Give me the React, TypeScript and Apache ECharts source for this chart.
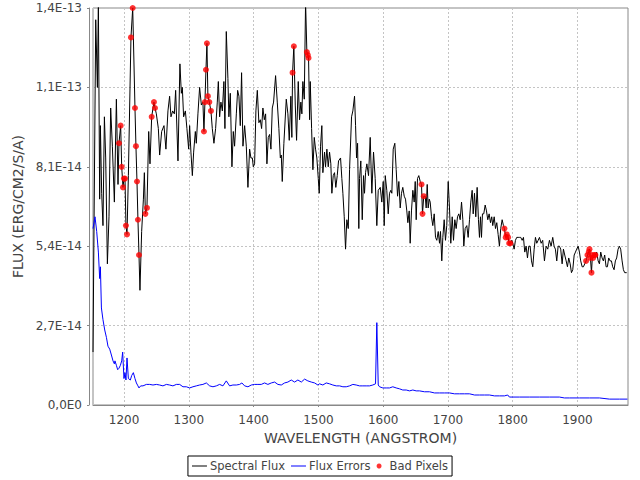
import React, { useEffect, useRef } from "react";
import * as echarts from "echarts";

// Flux values are in units of 1e-14 erg/cm2/s/A
const FLUX_UNIT_EXP = -14;

const xTicks = [1200, 1300, 1400, 1500, 1600, 1700, 1800, 1900];
const yTickStep = 2.7;

// [wavelength (Å), flux (1e-14)]
const spectralFlux: [number, number][] = [
  [1152, 1.8], [1156.2, 13.1], [1158.8, 10.8], [1160.3, 13.7], [1162.3, 7.0], [1163.4, 9.5], [1165.4, 7.2], [1167.4, 6.1],
  [1169.6, 9.8], [1171.6, 8.4], [1174.2, 4.8], [1176.7, 6.4], [1179.3, 10.1], [1181.9, 8.8], [1185.0, 6.9], [1188.1, 10.4],
  [1190.6, 7.5], [1192.1, 8.9], [1194.7, 9.5], [1196.3, 8.1], [1198.3, 7.4], [1199.8, 7.7], [1201.4, 7.7], [1202.9, 6.1],
  [1204.5, 5.8], [1206.6, 7.8], [1210.6, 12.5], [1213.3, 13.5], [1216.8, 10.1], [1218.3, 8.8], [1219.9, 7.6], [1221.4, 6.3],
  [1223.0, 5.1], [1224.5, 3.9], [1227.1, 5.9], [1229.8, 7.0], [1231.3, 7.9], [1232.9, 6.5], [1235.3, 6.7], [1238.0, 9.3],
  [1240.0, 8.2], [1242.6, 9.8], [1246.1, 10.3], [1247.7, 10.1], [1249.8, 9.9], [1252.9, 9.4], [1254.9, 8.5], [1258.0, 9.3],
  [1261.6, 9.5], [1264.6, 8.7], [1267.7, 10.0], [1270.3, 10.5], [1272.4, 9.8], [1275.0, 10.0], [1277.6, 9.9], [1279.6, 10.7],
  [1283.2, 8.3], [1286.2, 11.6], [1288.4, 10.6], [1289.9, 10.8], [1291.9, 9.8], [1294.6, 10.0], [1297.0, 9.4], [1299.7, 8.7],
  [1301.2, 9.5], [1303.2, 8.6], [1305.4, 7.8], [1307.4, 8.6], [1310.0, 9.3], [1311.5, 8.9], [1314.0, 9.9], [1316.6, 10.8],
  [1319.3, 10.2], [1321.7, 10.3], [1323.3, 9.3], [1324.8, 10.3], [1326.4, 11.4], [1327.9, 12.3], [1329.4, 10.5], [1331.6, 10.3],
  [1334.1, 10.0], [1336.2, 9.4], [1338.7, 8.9], [1341.3, 9.4], [1343.9, 10.3], [1345.5, 11.0], [1347.5, 9.8], [1349.5, 10.3],
  [1351.7, 10.0], [1354.1, 11.0], [1355.7, 9.4], [1357.8, 12.7], [1360.3, 11.1], [1361.8, 9.8], [1364.0, 10.6], [1366.5, 8.1],
  [1368.6, 9.3], [1370.6, 8.8], [1373.3, 9.9], [1375.3, 10.7], [1377.3, 10.5], [1379.4, 9.5], [1381.4, 11.3], [1383.5, 8.8],
  [1386.1, 9.5], [1388.7, 8.8], [1391.2, 7.4], [1393.8, 8.7], [1395.8, 8.4], [1398.0, 8.4], [1399.5, 8.1], [1401.5, 8.2],
  [1403.5, 10.0], [1405.7, 10.7], [1408.1, 9.6], [1410.3, 9.7], [1412.3, 9.4], [1414.3, 10.1], [1416.5, 9.7], [1418.5, 9.9],
  [1420.5, 8.2], [1422.6, 9.1], [1424.7, 9.2], [1426.7, 8.7], [1428.8, 10.1], [1430.8, 10.3], [1433.9, 11.2], [1436.5, 10.3],
  [1439.0, 9.4], [1441.2, 8.4], [1442.7, 8.5], [1444.2, 7.6], [1446.7, 8.9], [1450.4, 10.4], [1452.9, 9.9], [1455.0, 9.0],
  [1457.5, 10.5], [1459.0, 9.1], [1460.1, 11.3], [1462.1, 12.2], [1464.3, 10.2], [1466.3, 9.0], [1468.9, 11.0], [1470.9, 9.7],
  [1472.9, 10.3], [1474.5, 9.9], [1476.0, 11.0], [1478.2, 10.4], [1480.2, 13.7], [1482.2, 12.0], [1483.7, 11.9], [1484.8, 11.8],
  [1486.4, 9.7], [1487.4, 11.0], [1489.5, 9.4], [1491.5, 8.0], [1493.6, 9.1], [1495.6, 8.7], [1497.6, 8.4], [1499.8, 7.7],
  [1501.3, 7.2], [1503.3, 8.8], [1505.3, 9.5], [1506.9, 7.9], [1509.5, 8.6], [1511.0, 8.1], [1513.1, 8.7], [1515.2, 8.1],
  [1517.2, 8.6], [1519.2, 8.2], [1520.8, 7.2], [1522.9, 7.8], [1524.9, 7.9], [1526.9, 7.4], [1529.1, 7.8], [1531.1, 8.3],
  [1534.2, 8.4], [1536.2, 7.7], [1537.8, 7.2], [1539.9, 6.4], [1541.9, 5.3], [1543.9, 6.3], [1546.1, 6.0], [1548.1, 8.0],
  [1551.2, 9.8], [1553.2, 10.0], [1555.8, 10.5], [1557.4, 9.5], [1558.9, 8.4], [1560.5, 8.9], [1562.4, 6.0], [1563.5, 7.7],
  [1565.5, 8.3], [1567.7, 6.3], [1569.7, 7.8], [1571.2, 7.2], [1572.8, 7.9], [1574.8, 8.2], [1577.4, 7.8], [1580.0, 9.1],
  [1582.5, 7.2], [1585.1, 8.6], [1587.7, 7.7], [1590.2, 6.1], [1592.4, 7.3], [1595.5, 7.4], [1597.9, 6.9], [1600.1, 7.6],
  [1601.6, 6.1], [1603.2, 7.8], [1605.6, 7.3], [1607.8, 6.5], [1609.8, 7.2], [1611.8, 7.3], [1613.4, 7.2], [1615.5, 8.7],
  [1618.0, 8.9], [1620.1, 8.0], [1622.2, 7.1], [1624.2, 7.6], [1626.3, 6.7], [1628.3, 7.2], [1630.3, 7.4], [1632.5, 7.1],
  [1634.5, 7.0], [1636.5, 6.6], [1638.1, 6.2], [1640.2, 6.6], [1641.7, 5.5], [1643.7, 6.6], [1645.8, 7.3], [1647.9, 6.9],
  [1649.5, 7.6], [1651.0, 6.3], [1653.0, 7.7], [1655.0, 7.8], [1657.2, 7.6], [1659.2, 7.5], [1660.7, 6.5], [1662.7, 7.1],
  [1664.9, 7.1], [1666.4, 6.7], [1668.0, 7.5], [1669.5, 6.7], [1671.1, 7.0], [1672.6, 6.9], [1674.6, 6.4], [1676.6, 6.1],
  [1678.8, 6.5], [1680.8, 5.7], [1682.8, 5.6], [1685.0, 5.9], [1687.0, 5.5], [1688.5, 5.9], [1690.5, 4.9], [1692.1, 5.7],
  [1694.2, 6.3], [1696.2, 5.6], [1698.2, 6.1], [1700.4, 7.6], [1702.4, 6.7], [1704.4, 5.5], [1706.6, 6.4], [1708.6, 5.6],
  [1710.6, 6.3], [1712.7, 6.0], [1714.8, 6.4], [1716.8, 6.5], [1718.9, 6.3], [1721.0, 6.9], [1723.0, 6.3], [1724.5, 5.4],
  [1726.6, 6.0], [1729.1, 6.1], [1731.2, 5.7], [1733.3, 6.3], [1735.3, 6.9], [1737.4, 7.3], [1739.0, 6.5], [1741.0, 7.2],
  [1743.0, 6.4], [1745.1, 7.4], [1747.1, 6.3], [1748.7, 5.7], [1750.2, 6.4], [1751.8, 5.7], [1753.3, 6.5], [1755.3, 6.5],
  [1757.5, 6.8], [1759.5, 6.6], [1761.5, 6.3], [1763.6, 6.5], [1765.7, 6.2], [1767.6, 6.4], [1769.2, 6.1], [1771.4, 6.4],
  [1773.4, 6.0], [1775.4, 6.2], [1777.5, 5.8], [1779.5, 5.4], [1781.5, 6.0], [1783.7, 6.3], [1785.7, 6.1], [1787.2, 6.0],
  [1789.2, 5.7], [1790.8, 5.8], [1792.9, 5.7], [1794.5, 5.5], [1796.5, 5.5], [1798.5, 5.6], [1800.1, 5.5], [1802.2, 5.3],
  [1804.2, 5.6], [1806.2, 5.7], [1808.4, 5.7], [1810.4, 5.7], [1812.4, 5.7], [1814.6, 5.6], [1816.6, 5.7], [1818.6, 5.2],
  [1820.7, 5.4], [1822.8, 5.0], [1824.8, 5.4], [1826.9, 5.4], [1829.0, 4.9], [1831.0, 4.7], [1833.1, 5.3], [1835.1, 5.7],
  [1837.1, 5.5], [1839.3, 5.6], [1841.3, 5.7], [1843.9, 5.5], [1846.3, 5.6], [1849.0, 4.9], [1851.6, 5.4], [1854.1, 5.3],
  [1856.7, 5.6], [1859.3, 5.4], [1861.8, 5.7], [1863.9, 5.4], [1865.9, 5.3], [1868.0, 4.9], [1870.1, 5.4], [1872.1, 5.4],
  [1874.1, 5.3], [1876.3, 4.8], [1878.3, 5.3], [1880.3, 5.1], [1882.5, 4.9], [1884.5, 4.7], [1886.5, 5.0], [1888.7, 4.8],
  [1890.7, 4.5], [1892.7, 4.6], [1894.9, 5.1], [1896.9, 5.2], [1898.8, 5.3], [1901.0, 5.4], [1903.0, 5.2], [1905.0, 4.9],
  [1907.2, 4.7], [1909.2, 4.7], [1911.2, 4.8], [1913.3, 4.9], [1915.4, 5.1], [1917.4, 5.2], [1918.5, 5.3], [1920.0, 5.0],
  [1921.6, 4.5], [1923.1, 5.1], [1924.2, 5.0], [1926.2, 5.1], [1927.7, 5.1], [1929.7, 5.2], [1931.9, 4.9], [1933.9, 4.8],
  [1935.9, 5.2], [1938.0, 5.0], [1940.0, 4.9], [1942.0, 5.1], [1944.2, 4.7], [1946.2, 4.7], [1948.2, 5.0], [1950.3, 4.9],
  [1952.4, 4.9], [1954.4, 4.7], [1956.5, 4.6], [1958.5, 4.9], [1960.5, 5.0], [1962.7, 5.3], [1964.7, 5.4], [1966.7, 5.3],
  [1968.9, 4.9], [1970.9, 4.6], [1972.9, 4.5], [1976.0, 4.5],
];

// [wavelength (Å), flux error (1e-14)]
const fluxErrors: [number, number][] = [
  [1152, 6.0], [1155.1, 6.4], [1157.7, 5.9], [1160.3, 5.2], [1162.3, 4.3], [1163.4, 4.7], [1165.0, 3.3], [1167.4, 2.9],
  [1170.1, 2.55], [1172.7, 2.3], [1175.1, 2.0], [1177.8, 1.9], [1180.4, 1.7], [1182.9, 1.5], [1185.0, 1.4], [1185.9, 1.5],
  [1188.1, 1.35], [1190.1, 1.2], [1192.1, 1.25], [1194.3, 1.35], [1196.3, 1.5], [1197.8, 1.8], [1199.8, 0.9], [1201.4, 1.1],
  [1202.9, 0.85], [1204.5, 1.6], [1206.6, 0.9], [1209.7, 0.85], [1211.7, 1.0], [1214.3, 1.1], [1216.8, 0.9], [1219.0, 0.75],
  [1221.4, 0.65], [1223.0, 0.58], [1225.6, 0.65], [1229.2, 0.65], [1234.4, 0.7], [1239.5, 0.7], [1244.6, 0.68], [1249.8, 0.7],
  [1254.9, 0.68], [1260.0, 0.65], [1265.3, 0.7], [1270.3, 0.68], [1275.4, 0.65], [1280.7, 0.7], [1285.8, 0.7], [1290.9, 0.62],
  [1296.1, 0.62], [1301.2, 0.58], [1306.3, 0.62], [1311.5, 0.65], [1316.6, 0.68], [1321.7, 0.7], [1327.0, 0.75], [1332.1, 0.65],
  [1337.2, 0.62], [1342.4, 0.65], [1347.5, 0.7], [1352.6, 0.65], [1357.8, 0.82], [1362.9, 0.65], [1368.0, 0.68], [1373.3, 0.68],
  [1378.4, 0.7], [1381.9, 0.75], [1386.1, 0.65], [1391.2, 0.62], [1396.4, 0.68], [1401.5, 0.7], [1406.6, 0.7], [1411.8, 0.7],
  [1416.9, 0.75], [1422.0, 0.7], [1427.3, 0.75], [1432.4, 0.78], [1437.5, 0.7], [1442.7, 0.68], [1447.8, 0.75], [1452.9, 0.78],
  [1458.1, 0.85], [1463.2, 0.78], [1468.3, 0.85], [1473.6, 0.78], [1478.7, 0.88], [1483.7, 0.82], [1489.0, 0.78], [1494.1, 0.75],
  [1499.2, 0.68], [1501.8, 0.72], [1506.9, 0.68], [1512.1, 0.75], [1517.2, 0.72], [1522.3, 0.68], [1527.6, 0.65], [1532.7, 0.65],
  [1537.8, 0.62], [1543.0, 0.62], [1548.1, 0.65], [1553.2, 0.7], [1558.4, 0.68], [1563.5, 0.65], [1568.6, 0.65], [1573.8, 0.65],
  [1578.9, 0.65], [1584.0, 0.68], [1588.2, 0.72], [1590.2, 2.8], [1592.4, 0.68], [1594.4, 0.62], [1599.5, 0.58], [1604.7, 0.58],
  [1609.8, 0.58], [1614.9, 0.62], [1620.1, 0.58], [1625.2, 0.55], [1630.3, 0.51], [1635.6, 0.51], [1640.7, 0.48], [1645.8, 0.51],
  [1651.0, 0.48], [1656.1, 0.48], [1663.8, 0.45], [1671.5, 0.45], [1679.3, 0.41], [1687.0, 0.41], [1694.7, 0.41], [1702.4, 0.41],
  [1710.1, 0.38], [1717.9, 0.38], [1725.6, 0.38], [1733.3, 0.38], [1741.0, 0.34], [1748.7, 0.34], [1756.4, 0.34], [1764.1, 0.34],
  [1771.8, 0.31], [1779.5, 0.31], [1787.2, 0.31], [1792.3, 0.34], [1794.9, 0.27], [1810.4, 0.27], [1825.8, 0.27], [1841.3, 0.27],
  [1856.7, 0.27], [1872.1, 0.27], [1879.8, 0.24], [1887.5, 0.24], [1903.0, 0.24], [1918.5, 0.24], [1933.9, 0.24], [1949.4, 0.2],
  [1964.7, 0.2], [1977.1, 0.2],
];

// [wavelength (Å), flux (1e-14)] of flagged pixels
const badPixels: [number, number][] = [
  [1192.1, 8.9], [1194.7, 9.5], [1196.3, 8.1], [1198.3, 7.4], [1199.8, 7.7], [1201.4, 7.7], [1202.9, 6.1], [1204.5, 5.8],
  [1210.6, 12.5], [1213.3, 13.5], [1216.8, 10.1], [1218.3, 8.8], [1219.9, 7.6], [1221.4, 6.3], [1223.0, 5.1], [1232.9, 6.5],
  [1235.3, 6.7], [1242.6, 9.8], [1246.1, 10.3], [1247.7, 10.1], [1323.3, 9.3], [1324.8, 10.3], [1326.4, 11.4], [1327.9, 12.3],
  [1329.4, 10.5], [1331.6, 10.3], [1334.1, 10.0], [1460.1, 11.3], [1462.1, 12.2], [1482.2, 12.0], [1483.7, 11.9], [1484.8, 11.8],
  [1659.2, 7.5], [1660.7, 6.5], [1662.7, 7.1], [1787.2, 6.0], [1789.2, 5.7], [1790.8, 5.8], [1792.9, 5.7], [1794.5, 5.5],
  [1796.5, 5.5], [1913.3, 4.9], [1915.4, 5.1], [1917.4, 5.2], [1918.5, 5.3], [1920.0, 5.0], [1921.6, 4.5], [1923.1, 5.1],
  [1924.2, 5.0], [1926.2, 5.1], [1927.7, 5.1],
];

const X_MIN = 1152;
const X_MAX = 1978;
const Y_MAX = 13.5;

const FONT = "'DejaVu Sans', sans-serif";
const LINE_ICON = "path://M0,0 L30,0 L30,2 L0,2 Z";

function formatFlux(v: number): string {
  if (Math.abs(v) < 1e-9) return "0,0E0";
  let exp = Math.floor(Math.log10(v) + 1e-9);
  let m = Math.round((v / Math.pow(10, exp)) * 10 + 1e-9) / 10;
  if (m >= 10) {
    m = m / 10;
    exp += 1;
  }
  return m.toFixed(1).replace(".", ",") + "E" + (exp + FLUX_UNIT_EXP);
}

export default function App() {
  const ref = useRef<HTMLDivElement>(null);
  useEffect(() => {
    if (!ref.current) return;
    const chart = echarts.init(ref.current, undefined, { renderer: "svg" });
    chart.setOption({
      animation: false,
      backgroundColor: "#ffffff",
      textStyle: { fontFamily: FONT },
      grid: {
        left: 93,
        right: 12,
        top: 8,
        bottom: 75,
        show: true,
        borderColor: "#888888",
        borderWidth: 1,
        backgroundColor: "#ffffff",
      },
      legend: {
        left: "center",
        top: 456,
        orient: "horizontal",
        borderColor: "#000000",
        borderWidth: 1,
        borderRadius: 0,
        padding: [4, 4, 4, 4],
        itemGap: 6,
        itemWidth: 15,
        itemHeight: 5,
        symbolKeepAspect: true,
        textStyle: { fontFamily: FONT, fontSize: 11.5, color: "#444444", padding: [0, 0, 0, -2] },
        data: [
          { name: "Spectral Flux", icon: LINE_ICON, itemStyle: { color: "#000000" } },
          { name: "Flux Errors", icon: LINE_ICON, itemStyle: { color: "#0000ff" } },
          { name: "Bad Pixels", icon: "circle", itemStyle: { color: "#ff0000" } },
        ],
      },
      xAxis: {
        type: "value",
        min: X_MIN,
        max: X_MAX,
        splitNumber: 8,
        offset: 4,
        name: "WAVELENGTH (ANGSTROM)",
        nameLocation: "middle",
        nameGap: 22,
        nameTextStyle: { fontFamily: FONT, fontSize: 14, color: "#444444" },
        axisLine: { show: true, lineStyle: { color: "#888888", width: 1 } },
        axisTick: { show: true, length: 2, lineStyle: { color: "#888888" } },
        axisLabel: {
          showMinLabel: false,
          showMaxLabel: false,
          margin: 5,
          fontFamily: FONT,
          fontSize: 12,
          color: "#444444",
          formatter: (v: number) => (xTicks.includes(Math.round(v)) ? String(Math.round(v)) : ""),
        },
        splitLine: { show: true, lineStyle: { color: "#c4c4c4", type: [2, 2], width: 1 } },
      },
      yAxis: {
        type: "value",
        min: 0,
        max: Y_MAX,
        interval: yTickStep,
        offset: 4,
        name: "FLUX (ERG/CM2/S/A)",
        nameLocation: "middle",
        nameGap: 60,
        nameTextStyle: { fontFamily: FONT, fontSize: 14, color: "#444444" },
        axisLine: { show: true, lineStyle: { color: "#888888", width: 1 } },
        axisTick: { show: true, length: 2, lineStyle: { color: "#888888" } },
        axisLabel: {
          margin: 7,
          fontFamily: FONT,
          fontSize: 12,
          color: "#444444",
          formatter: (v: number) => formatFlux(v),
        },
        splitLine: { show: true, lineStyle: { color: "#c4c4c4", type: [2, 2], width: 1 } },
      },
      series: [
        {
          name: "Spectral Flux",
          type: "line",
          data: spectralFlux,
          symbol: "none",
          clip: true,
          lineStyle: { color: "#000000", width: 1 },
          itemStyle: { color: "#000000" },
          z: 2,
        },
        {
          name: "Flux Errors",
          type: "line",
          data: fluxErrors,
          symbol: "none",
          clip: true,
          lineStyle: { color: "#0000ff", width: 1 },
          itemStyle: { color: "#0000ff" },
          z: 2,
        },
        {
          name: "Bad Pixels",
          type: "scatter",
          data: badPixels,
          symbol: "circle",
          symbolSize: 6,
          clip: true,
          itemStyle: { color: "#ff0000" },
          z: 3,
        },
      ],
    });
    return () => chart.dispose();
  }, []);
  return (
    <div
      ref={ref}
      style={{ position: "fixed", left: 0, top: 0, width: 640, height: 480, background: "#ffffff" }}
    />
  );
}
